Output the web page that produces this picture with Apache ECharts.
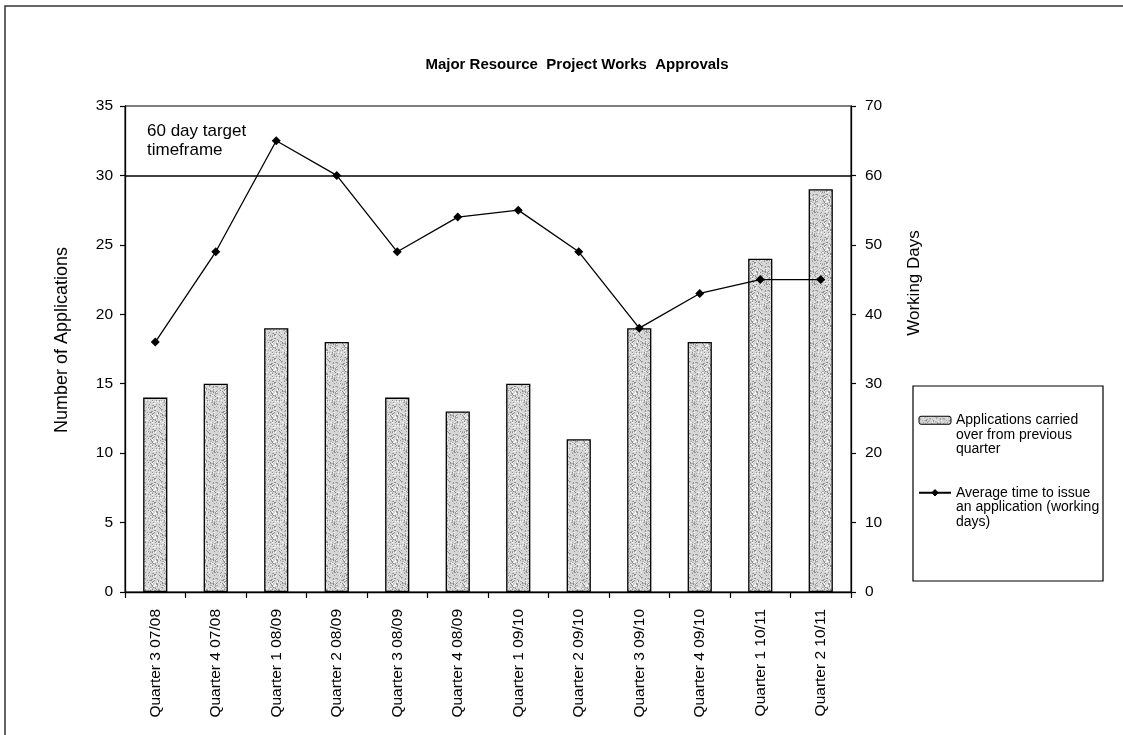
<!DOCTYPE html>
<html>
<head>
<meta charset="utf-8">
<script src="https://cdn.jsdelivr.net/npm/echarts@6/dist/echarts.min.js"></script>
<style>
html,body{margin:0;padding:0;background:#fff;}
#chart{width:1123px;height:735px;}
</style>
</head>
<body>
<div id="chart"></div>
<script>
const categories = ['Quarter 3 07/08','Quarter 4 07/08','Quarter 1 08/09','Quarter 2 08/09','Quarter 3 08/09','Quarter 4 08/09','Quarter 1 09/10','Quarter 2 09/10','Quarter 3 09/10','Quarter 4 09/10','Quarter 1 10/11','Quarter 2 10/11'];
const carriedOver = [14,15,19,18,14,13,15,11,19,18,24,29];
const avgDays = [36,49,65,60,49,54,55,49,38,43,45,45];
const targetDays = 60;
const leftTicks = [0,35,5];
const rightTicks = [0,70,10];

const FONT = "'Liberation Sans', Arial, sans-serif";

function makePattern(){
  const n = 24;
  const c = document.createElement('canvas');
  c.width = n; c.height = n;
  const ctx = c.getContext('2d');
  ctx.fillStyle = '#d6d6d6';
  ctx.fillRect(0,0,n,n);
  let s = 12345;
  for (let i=0;i<n*n;i++){
    s = (Math.imul(s,1103515245)+12345)>>>0;
    const v = (s>>>16)%100;
    if (v<34){
      ctx.fillStyle = v<11 ? '#909090' : (v<23 ? '#ababab' : '#f4f4f4');
      ctx.fillRect(i%n, Math.floor(i/n), 1, 1);
    }
  }
  return c;
}

const chart = echarts.init(document.getElementById('chart'), null, {renderer:'canvas'});
const axisLine = {show:true, lineStyle:{color:'#000', width:1.3}};
const option = {
  backgroundColor:'#fff',
  animation:false,
  textStyle:{fontFamily:FONT, color:'#000'},
  title:{
    text:'Major Resource  Project Works  Approvals',
    left:572, top:52, textAlign:'center',
    textStyle:{fontFamily:FONT, fontSize:15, fontWeight:'bold', color:'#000'}
  },
  grid:{left:125, right:272, top:106, bottom:143, show:true, borderColor:'#000', borderWidth:1, backgroundColor:'transparent'},
  legend:{
    orient:'vertical', left:918, top:384, itemGap:0, padding:0,
    itemWidth:32, itemHeight:8,
    itemStyle:{borderWidth:1, borderColor:'#000'},
    formatter:function(name){
      return name === 'Applications carried over from previous quarter'
        ? '\n\nApplications carried\nover from previous\nquarter'
        : '\n\nAverage time to issue\nan application (working\ndays)';
    },
    textStyle:{fontFamily:FONT, fontSize:14, lineHeight:14.5, color:'#000'}
  },
  xAxis:{
    type:'category', data:categories, boundaryGap:true,
    axisLine:axisLine,
    axisTick:{show:true, length:6, lineStyle:{color:'#000', width:1.2}},
    axisLabel:{rotate:90, interval:0, margin:17, fontSize:15.5, fontFamily:FONT, color:'#000'}
  },
  yAxis:[
    {type:'value', min:leftTicks[0], max:leftTicks[1], interval:leftTicks[2], position:'left',
     axisLine:axisLine, splitLine:{show:false},
     axisTick:{show:true, length:5, lineStyle:{color:'#000', width:1.2}},
     axisLabel:{margin:12, fontSize:15.5, fontFamily:FONT, color:'#000'}},
    {type:'value', min:rightTicks[0], max:rightTicks[1], interval:rightTicks[2], position:'right',
     axisLine:axisLine, splitLine:{show:false},
     axisTick:{show:true, length:5, lineStyle:{color:'#000', width:1.2}},
     axisLabel:{margin:14, fontSize:15.5, fontFamily:FONT, color:'#000'}}
  ],
  series:[
    {name:'Applications carried over from previous quarter', type:'bar', yAxisIndex:0, data:carriedOver,
     barWidth:'40%',
     itemStyle:{color:{image:makePattern(), repeat:'repeat'}, borderColor:'#000', borderWidth:1.3}},
    {name:'Average time to issue an application (working days)', type:'line', yAxisIndex:1, data:avgDays,
     symbol:'diamond', symbolSize:9, z:5,
     lineStyle:{color:'#000', width:1.3}, itemStyle:{color:'#000'},
     markLine:{silent:true, symbol:['none','none'], label:{show:false},
       lineStyle:{color:'#000', width:1.6, type:'solid'},
       data:[{yAxis:targetDays}]}}
  ],
  graphic:[
    {type:'rect', shape:{x:5, y:6, width:1200, height:800}, style:{fill:'none', stroke:'#333', lineWidth:1.5}, silent:true},
    {type:'rect', shape:{x:913, y:386, width:190, height:195}, style:{fill:'#fff', stroke:'#000', lineWidth:1.2}, z:-1, silent:true},
    {type:'text', left:147, top:122, style:{text:'60 day target\ntimeframe', font:'17px '+FONT, lineHeight:19, fill:'#000'}},
    {type:'text', x:62, y:340, rotation:Math.PI/2, style:{text:'Number of Applications', font:'18px '+FONT, fill:'#000', align:'center', verticalAlign:'middle'}},
    {type:'text', x:914, y:283, rotation:Math.PI/2, style:{text:'Working Days', font:'17px '+FONT, fill:'#000', align:'center', verticalAlign:'middle'}}
  ]
};
chart.setOption(option);
</script>
</body>
</html>
